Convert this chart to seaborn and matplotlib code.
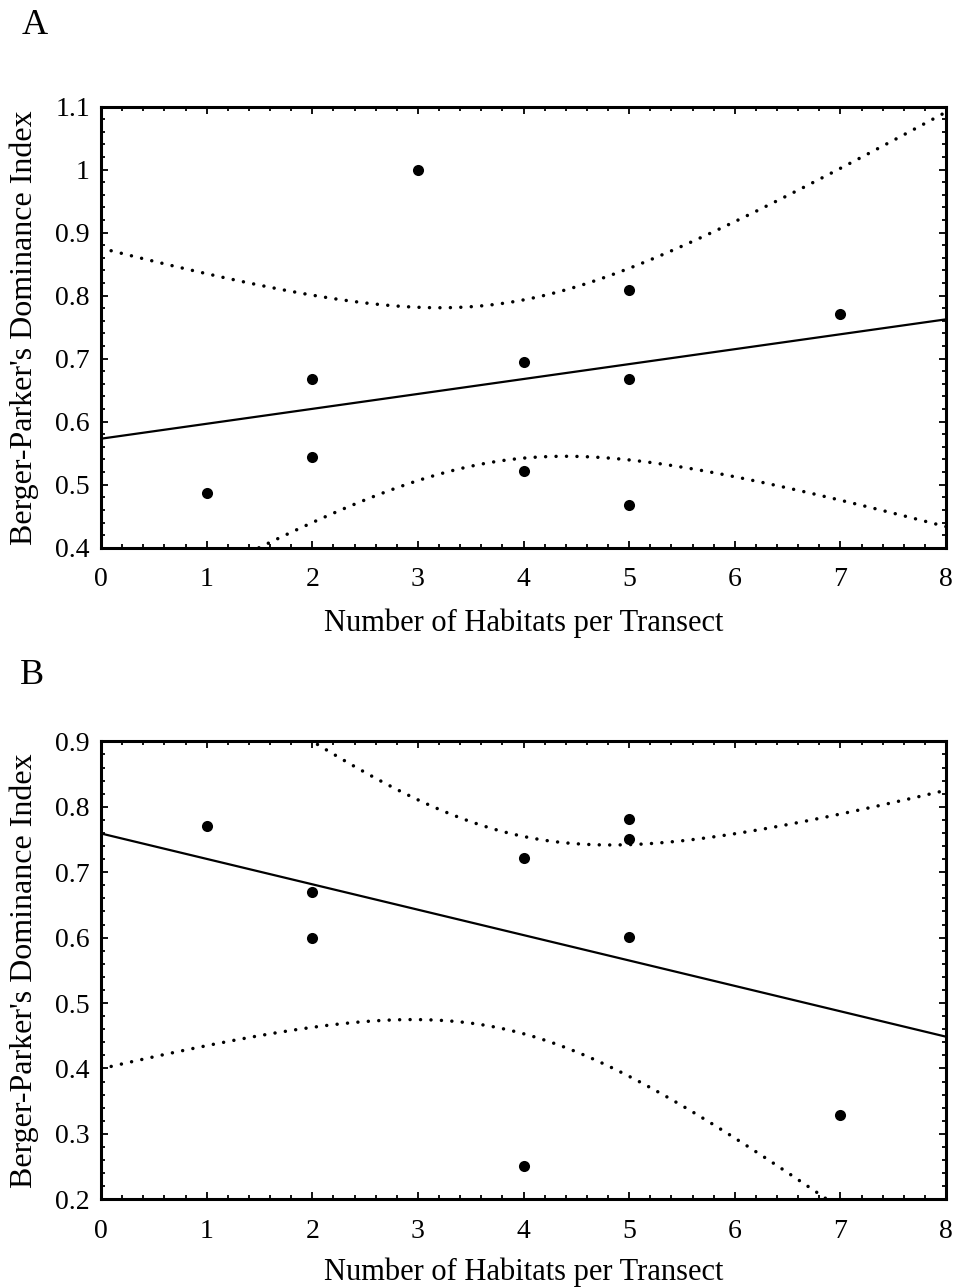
import numpy as np
import matplotlib
matplotlib.use("Agg")
import matplotlib.pyplot as plt
from matplotlib.ticker import MultipleLocator, FuncFormatter
import seaborn as sns

# panel A: number of habitats vs Berger-Parker dominance
habitats_a = [1, 2, 2, 3, 4, 4, 5, 5, 5, 7]
dominance_a = [0.487, 0.667, 0.544, 1.0, 0.694, 0.522, 0.809, 0.668, 0.468, 0.771]

# panel B
habitats_b = [1, 2, 2, 4, 4, 5, 5, 5, 7]
dominance_b = [0.770, 0.670, 0.600, 0.721, 0.251, 0.781, 0.751, 0.601, 0.329]

x_label = "Number of Habitats per Transect"
y_label = "Berger-Parker's Dominance Index"

# two-sided 95% t quantiles by residual degrees of freedom
T_975 = {7: 2.365, 8: 2.306}

sns.set_style("ticks")
plt.rcParams["font.family"] = ["Liberation Serif", "DejaVu Serif"]
plt.rcParams["xtick.direction"] = "in"
plt.rcParams["ytick.direction"] = "in"
for key in ("text.color", "axes.labelcolor", "xtick.color", "ytick.color",
            "xtick.labelcolor", "ytick.labelcolor"):
    plt.rcParams[key] = "black"


def fit_with_band(x, y, grid):
    """OLS line plus 95% confidence band for the mean."""
    x = np.asarray(x, float)
    y = np.asarray(y, float)
    n = len(x)
    slope, intercept = np.polyfit(x, y, 1)
    resid = y - (intercept + slope * x)
    s = np.sqrt(np.sum(resid ** 2) / (n - 2))
    sxx = np.sum((x - x.mean()) ** 2)
    fit = intercept + slope * grid
    half = T_975[n - 2] * s * np.sqrt(1 / n + (grid - x.mean()) ** 2 / sxx)
    return fit, fit - half, fit + half


def draw_panel(ax, x, y, ylim):
    ax.set_xlim(0, 8)
    ax.set_ylim(*ylim)
    grid = np.linspace(0, 8, 300)
    fit, lo, hi = fit_with_band(x, y, grid)
    ax.plot(grid, fit, color="black", lw=1.6)
    for band in (lo, hi):
        ax.plot(grid, band, color="black", lw=2.5,
                linestyle=(0, (0.01, 3.0)), dash_capstyle="round")
    sns.scatterplot(x=x, y=y, color="black", s=64, edgecolor="black",
                    linewidth=0, ax=ax, zorder=5)

    ax.xaxis.set_major_locator(MultipleLocator(1))
    ax.xaxis.set_minor_locator(MultipleLocator(0.2))
    ax.yaxis.set_major_locator(MultipleLocator(0.1))
    ax.yaxis.set_minor_locator(MultipleLocator(0.02))
    ax.yaxis.set_major_formatter(FuncFormatter(lambda v, p: f"{v:g}"))
    ax.tick_params(which="both", top=True, right=True, color="black", width=1.3)
    ax.tick_params(which="major", length=5, labelsize=20)
    ax.tick_params(which="minor", length=3)
    ax.tick_params(axis="x", pad=14)
    ax.tick_params(axis="y", pad=8)
    for sp in ax.spines.values():
        sp.set_linewidth(2.2)
        sp.set_color("black")

    ax.set_xlabel(x_label, fontsize=22)
    ax.set_ylabel(y_label, fontsize=23)


fig = plt.figure(figsize=(9.64, 12.87), dpi=100)
ax_a = fig.add_axes([101 / 964, 1 - 547.7 / 1287, 845 / 964, 441 / 1287])
ax_b = fig.add_axes([101 / 964, 1 - 1199.3 / 1287, 845 / 964, 457.9 / 1287])

draw_panel(ax_a, habitats_a, dominance_a, (0.4, 1.1))
draw_panel(ax_b, habitats_b, dominance_b, (0.2, 0.9))

ax_a.xaxis.set_label_coords(0.5, -0.138)
ax_a.yaxis.set_label_coords(-0.073, 0.5)
ax_b.xaxis.set_label_coords(0.5, -0.128)
ax_b.yaxis.set_label_coords(-0.073, 0.5)

fig.text(22 / 964, 1 - 9 / 1287, "A", fontsize=26, va="top", ha="left")
fig.text(20 / 964, 1 - 659 / 1287, "B", fontsize=26, va="top", ha="left")

plt.savefig("out.png", dpi=100)
plt.close()
